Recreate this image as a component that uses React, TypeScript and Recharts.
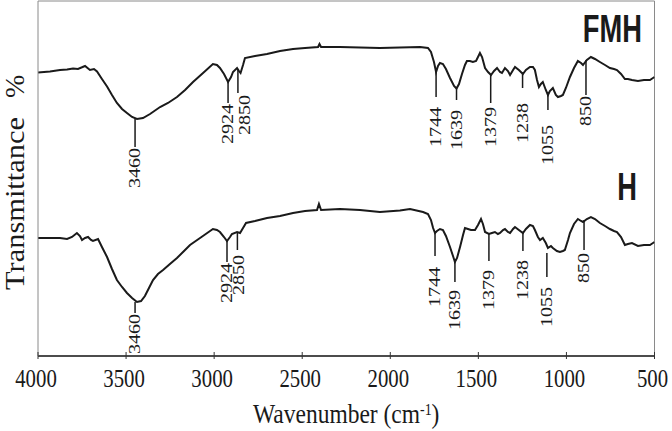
import React from 'react';
import { LineChart, Line, XAxis, YAxis, ReferenceLine, ReferenceDot } from 'recharts';

// ---- data ----
const fmhWavenumbers = [
  4000, 3932, 3875, 3835, 3801, 3773, 3733, 3705, 3682, 3665, 3637, 3608, 3580, 3552, 3523, 3495, 3466, 3438,
  3404, 3364, 3307, 3262, 3211, 3165, 3120, 3063, 3007, 2984, 2967, 2944, 2921, 2904, 2893, 2870, 2859, 2850,
  2836, 2825, 2768, 2700, 2626, 2552, 2484, 2410, 2402, 2393, 2286, 2172, 2059, 1945, 1831, 1786, 1769, 1752,
  1740, 1729, 1718, 1701, 1684, 1661, 1638, 1624, 1610, 1593, 1576, 1565, 1548, 1531, 1513, 1491, 1479, 1462,
  1445, 1428, 1411, 1394, 1377, 1366, 1349, 1332, 1320, 1303, 1292, 1270, 1247, 1230, 1207, 1190, 1179, 1167,
  1156, 1145, 1134, 1117, 1105, 1094, 1077, 1060, 1048, 1031, 1020, 1003, 980, 957, 935, 917, 906, 884, 861,
  838, 810, 781, 753, 730, 713, 690, 668, 651, 628, 594, 560, 526, 500,
];
const fmhTransmittance = [
  56.7, 56.9, 57.2, 57.3, 57.5, 57.4, 58.0, 57.2, 57.4, 56.9, 55.4, 53.9, 52.2, 50.6, 49.4, 48.6, 47.8, 47.4,
  47.6, 48.4, 49.8, 50.6, 51.8, 53.2, 54.8, 56.6, 58.4, 58.2, 57.6, 56.4, 54.8, 55.8, 56.8, 57.6, 57.0, 56.6,
  58.2, 59.6, 60.0, 60.4, 61.0, 61.4, 61.6, 61.8, 62.4, 61.8, 61.8, 61.7, 61.6, 61.7, 61.8, 61.6, 60.8, 58.8,
  56.8, 58.0, 58.6, 58.4, 57.4, 55.6, 54.0, 53.5, 54.4, 56.4, 58.2, 59.0, 59.0, 58.8, 59.0, 60.6, 59.8, 57.6,
  56.8, 56.2, 57.0, 57.6, 56.8, 56.6, 57.6, 57.0, 56.2, 57.2, 57.8, 57.2, 56.4, 57.2, 57.8, 57.8, 57.2, 55.2,
  53.8, 54.4, 54.8, 53.2, 52.2, 53.0, 53.6, 52.2, 51.8, 52.0, 52.2, 53.6, 55.8, 57.6, 59.0, 58.6, 58.2, 59.2, 59.8,
  59.4, 58.8, 58.2, 57.6, 57.4, 57.2, 56.4, 55.4, 55.4, 55.2, 55.0, 55.2, 55.2, 55.8,
];

const hWavenumbers = [
  4000, 3932, 3875, 3835, 3807, 3779, 3762, 3750, 3733, 3716, 3699, 3688, 3659, 3637, 3608, 3580, 3552, 3523,
  3495, 3466, 3438, 3415, 3393, 3370, 3347, 3319, 3290, 3251, 3211, 3171, 3137, 3080, 3007, 2984, 2967, 2944,
  2927, 2910, 2899, 2870, 2853, 2836, 2819, 2768, 2700, 2626, 2552, 2484, 2416, 2405, 2393, 2286, 2172, 2059,
  1945, 1888, 1814, 1786, 1769, 1757, 1746, 1735, 1718, 1701, 1684, 1661, 1644, 1633, 1621, 1604, 1587, 1576,
  1559, 1542, 1519, 1502, 1485, 1474, 1462, 1440, 1423, 1406, 1389, 1377, 1360, 1349, 1332, 1320, 1303, 1292,
  1270, 1247, 1230, 1207, 1190, 1179, 1162, 1150, 1134, 1117, 1105, 1088, 1077, 1054, 1037, 1020, 1009, 991,
  980, 957, 935, 917, 906, 884, 861, 838, 810, 781, 753, 730, 713, 690, 668, 651, 628, 594, 560, 526, 500,
];
const hTransmittance = [
  23.6, 23.6, 23.6, 23.4, 23.8, 24.6, 24.0, 23.2, 23.6, 23.8, 23.2, 23.0, 23.4, 21.8, 19.8, 17.4, 15.2, 13.8,
  12.6, 11.6, 10.8, 11.0, 12.0, 13.6, 15.2, 16.4, 17.2, 18.4, 19.6, 21.0, 22.2, 23.6, 25.4, 25.2, 24.8, 23.8,
  23.0, 23.8, 24.4, 24.8, 24.6, 25.6, 26.6, 27.0, 27.6, 28.0, 28.6, 29.0, 29.2, 30.4, 29.2, 29.4, 29.2, 28.8,
  29.1, 29.4, 28.8, 28.4, 27.2, 25.6, 24.6, 25.0, 25.4, 25.2, 24.0, 21.8, 20.0, 18.8, 19.6, 21.8, 24.2, 25.6,
  25.4, 25.2, 25.2, 26.2, 27.4, 26.4, 24.8, 24.4, 24.6, 24.8, 24.4, 24.6, 25.2, 25.4, 24.8, 24.6, 25.4, 25.8,
  25.2, 24.6, 25.4, 26.2, 26.0, 25.2, 23.8, 23.2, 23.6, 22.6, 21.6, 22.0, 21.6, 21.0, 20.8, 21.0, 21.2, 23.2,
  24.6, 26.4, 27.4, 27.0, 26.8, 27.4, 27.8, 27.4, 26.6, 26.0, 25.4, 25.0, 24.8, 23.8, 22.2, 22.4, 22.6, 22.0, 22.2, 22.2, 22.8,
];

const xTicks = [4000, 3500, 3000, 2500, 2000, 1500, 1000, 500];

const peakLabels = ['3460', '2924', '2850', '1744', '1639', '1379', '1238', '1055', '850'];
const fmhPeakPositions = [3449, 2921, 2865, 1740, 1624, 1430, 1249, 1105, 889];
const fmhPeakTextPositions = [3449, 2921, 2825, 1740, 1624, 1430, 1249, 1105, 889];
const fmhPeakLineTop = [47.4, 54.8, 57.2, 56.8, 53.6, 56.2, 56.4, 52.2, 59.2];
const fmhPeakLineBottom = [41.8, 50.6, 52.6, 51.8, 51.2, 50.6, 53.6, 49.2, 52.2];
const fmhPeakTextTop = [41.6, 50.4, 52.2, 49.8, 49.2, 49.8, 50.6, 46.2, 52.0];

const hPeakPositions = [3449, 2927, 2868, 1746, 1633, 1440, 1247, 1111, 900];
const hPeakTextPositions = [3449, 2927, 2860, 1746, 1633, 1440, 1247, 1111, 900];
const hPeakLineTop = [10.8, 23.0, 24.6, 24.6, 18.8, 24.4, 24.6, 20.6, 27.2];
const hPeakLineBottom = [8.6, 18.8, 21.2, 20.0, 14.8, 19.0, 21.0, 15.8, 21.2];
const hPeakTextTop = [8.4, 18.6, 20.2, 17.8, 13.2, 17.2, 19.2, 13.8, 20.6];

const seriesNames = ['FMH', 'H'];
const seriesNamePositions = [571, 599];
const seriesNameBaselines = [62.8, 31.2];

// ---- built tables ----
const fmhData = fmhWavenumbers.map((wn, i) => ({ wn, t: fmhTransmittance[i] }));
const hData = hWavenumbers.map((wn, i) => ({ wn, t: hTransmittance[i] }));

const SERIF = "'Liberation Serif', 'Times New Roman', Times, serif";
const SANS = "'Liberation Sans', Arial, Helvetica, sans-serif";
const INK = '#1a1a1a';

const serifStyle = { fontFamily: SERIF } as React.CSSProperties;
const sansStyle = { fontFamily: SANS, fontWeight: 700 } as React.CSSProperties;

const XTick = (props: any) => {
  const { x, y, payload } = props;
  return (
    <g>
      <line x1={x} x2={x} y1={y - 4} y2={y + 3} stroke="#333" strokeWidth={1} />
      <text
        transform={`translate(${x - 2},${y + 31}) scale(0.8,1)`}
        textAnchor="middle"
        style={serifStyle}
        fontSize={26}
        fill={INK}
      >
        {payload.value}
      </text>
    </g>
  );
};

const XTitle = (props: any) => {
  const vb = props.viewBox || { x: 38, y: 356, width: 616 };
  const cx = vb.x + vb.width / 2;
  return (
    <text
      transform={`translate(${cx},${vb.y + 67}) scale(0.87,1)`}
      textAnchor="middle"
      style={serifStyle}
      fontSize={27}
      fill={INK}
    >
      Wavenumber (cm
      <tspan fontSize={16} dy={-8}>-1</tspan>
      <tspan dy={8}>)</tspan>
    </text>
  );
};

const YTitle = () => (
  <g style={serifStyle} fontSize={28} fill={INK}>
    <text transform="translate(24,290) rotate(-90)" textAnchor="start" style={serifStyle} textLength={173} lengthAdjust="spacingAndGlyphs">
      Transmittance
    </text>
    <text transform="translate(24,98) rotate(-90)" textAnchor="start" style={serifStyle}>
      %
    </text>
  </g>
);

const peakText = (label: string) => (props: any) => (
  <text
    transform={`translate(${props.cx + 5.4},${props.cy}) rotate(-90) scale(1,0.8)`}
    textAnchor="end"
    style={serifStyle}
    fontSize={20}
    fill={INK}
  >
    {label}
  </text>
);

const nameText = (label: string) => (props: any) => (
  <text
    transform={`translate(${props.cx},${props.cy}) scale(0.7,1)`}
    textAnchor="end"
    style={sansStyle}
    fontSize={39}
    fill={INK}
  >
    {label}
  </text>
);

const peakGroups = [
  { pos: fmhPeakPositions, tpos: fmhPeakTextPositions, top: fmhPeakLineTop, bot: fmhPeakLineBottom, text: fmhPeakTextTop, key: 'fmh' },
  { pos: hPeakPositions, tpos: hPeakTextPositions, top: hPeakLineTop, bot: hPeakLineBottom, text: hPeakTextTop, key: 'h' },
];

export default function App() {
  return (
    <div style={{ position: 'absolute', left: 0, top: 0, width: 672, height: 431, background: '#fff' }}>
      <LineChart width={672} height={431} margin={{ top: 1, right: 17.5, bottom: 0, left: 0 }}>
        <XAxis
          dataKey="wn"
          type="number"
          domain={[500, 4000]}
          reversed
          ticks={xTicks}
          interval={0}
          allowDataOverflow
          height={75}
          tickSize={0}
          tickMargin={0}
          tickLine={false}
          axisLine={{ stroke: '#111', strokeWidth: 1.5 }}
          tick={<XTick />}
          label={{ content: <XTitle /> }}
        />
        <YAxis
          type="number"
          domain={[0, 71]}
          allowDataOverflow
          width={38}
          tick={false}
          tickLine={false}
          axisLine={{ stroke: '#8a8a8a', strokeWidth: 1 }}
          label={{ content: <YTitle /> }}
        />
        <ReferenceLine y={71} stroke="#8a8a8a" strokeWidth={1} />
        <ReferenceLine x={500} stroke="#8a8a8a" strokeWidth={1} />
        <Line data={fmhData} dataKey="t" type="linear" stroke={INK} strokeWidth={2} dot={false} isAnimationActive={false} />
        <Line data={hData} dataKey="t" type="linear" stroke={INK} strokeWidth={2} dot={false} isAnimationActive={false} />
        {peakGroups.map((g) =>
          peakLabels.map((label, i) => (
            <ReferenceLine
              key={`${g.key}-line-${label}`}
              segment={[
                { x: g.pos[i], y: g.top[i] },
                { x: g.pos[i], y: g.bot[i] },
              ]}
              stroke={INK}
              strokeWidth={1.5}
            />
          ))
        )}
        {peakGroups.map((g) =>
          peakLabels.map((label, i) => (
            <ReferenceDot
              key={`${g.key}-text-${label}`}
              x={g.tpos[i]}
              y={g.text[i]}
              r={1}
              shape={peakText(label)}
            />
          ))
        )}
        {seriesNames.map((name, i) => (
          <ReferenceDot
            key={`name-${name}`}
            x={seriesNamePositions[i]}
            y={seriesNameBaselines[i]}
            r={1}
            shape={nameText(name)}
          />
        ))}
      </LineChart>
    </div>
  );
}
